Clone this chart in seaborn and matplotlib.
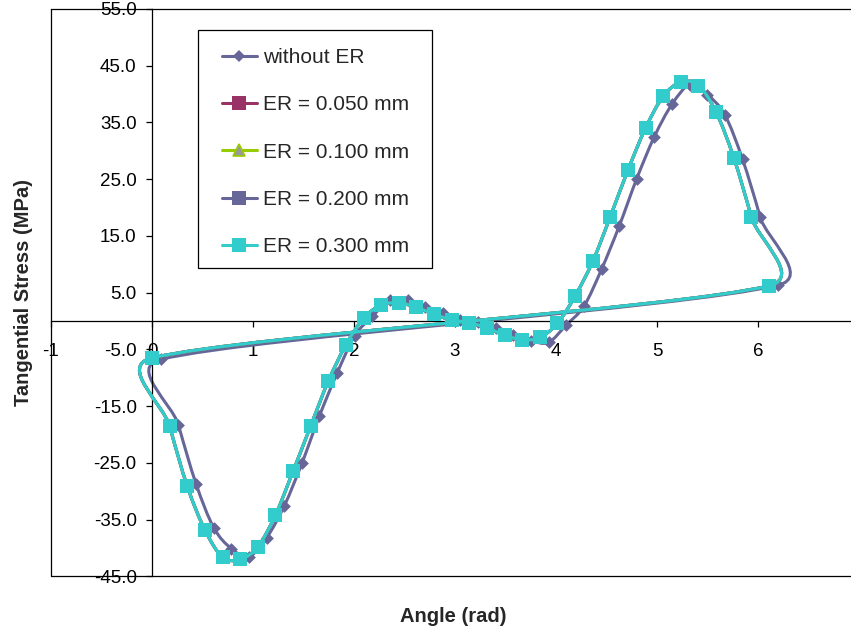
import numpy as np
import pandas as pd
import seaborn as sns
import matplotlib.pyplot as plt
from matplotlib.path import Path
from matplotlib.patches import PathPatch, Rectangle
from matplotlib.lines import Line2D
from matplotlib.ticker import FormatStrFormatter

# angle of each sample, in degrees
deg_er = [0, 10, 20, 30, 40, 50, 60, 70, 80, 90, 100, 110,
          120, 130, 140, 150, 160, 170, 180, 190, 200, 210, 220, 230,
          240, 250, 260, 270, 280, 290, 300, 310, 320, 330, 340, 350]
deg_without = [5, 15, 25, 35, 45, 55, 65, 75, 85, 95, 105, 115,
               125, 135, 145, 155, 165, 175, 185, 195, 205, 215, 225, 235,
               245, 255, 265, 275, 285, 295, 305, 315, 325, 335, 345, 355]

# tangential stress (MPa)
stress_without = [-6.75, -18.3, -28.7, -36.4, -40.1, -41.5, -38.2, -32.6, -25.1, -16.7, -9.2, -2.6,
                  0.8, 3.7, 3.7, 2.4, 1.5, 0.2, -0.1, -1.3, -2.5, -3.5, -3.75, -0.7,
                  2.6, 9.1, 16.7, 25.1, 32.5, 38.2, 41.6, 39.9, 36.3, 28.5, 18.3, 6.3]
stress_er_050 = [-6.5, -18.5, -29.1, -36.8, -41.6, -42.0, -39.8, -34.2, -26.5, -18.5, -10.6, -4.2,
                 0.5, 2.8, 3.2, 2.4, 1.2, 0.2, -0.3, -1.2, -2.5, -3.3, -2.9, -0.4,
                 4.4, 10.5, 18.4, 26.6, 34.0, 39.6, 42.1, 41.5, 36.8, 28.8, 18.3, 6.2]
stress_er_100 = [-6.5, -18.5, -29.1, -36.8, -41.6, -42.0, -39.8, -34.2, -26.5, -18.5, -10.6, -4.2,
                 0.5, 2.8, 3.2, 2.4, 1.2, 0.2, -0.3, -1.2, -2.5, -3.3, -2.9, -0.4,
                 4.4, 10.5, 18.4, 26.6, 34.0, 39.6, 42.1, 41.5, 36.8, 28.8, 18.3, 6.2]
stress_er_200 = [-6.5, -18.5, -29.1, -36.8, -41.6, -42.0, -39.8, -34.2, -26.5, -18.5, -10.6, -4.2,
                 0.5, 2.8, 3.2, 2.4, 1.2, 0.2, -0.3, -1.2, -2.5, -3.3, -2.9, -0.4,
                 4.4, 10.5, 18.4, 26.6, 34.0, 39.6, 42.1, 41.5, 36.8, 28.8, 18.3, 6.2]
stress_er_300 = [-6.5, -18.5, -29.1, -36.8, -41.6, -42.0, -39.8, -34.2, -26.5, -18.5, -10.6, -4.2,
                 0.5, 2.8, 3.2, 2.4, 1.2, 0.2, -0.3, -1.2, -2.5, -3.3, -2.9, -0.4,
                 4.4, 10.5, 18.4, 26.6, 34.0, 39.6, 42.1, 41.5, 36.8, 28.8, 18.3, 6.2]

labels = ["without ER", "ER = 0.050 mm", "ER = 0.100 mm", "ER = 0.200 mm", "ER = 0.300 mm"]
x_ticks = [-1, 0, 1, 2, 3, 4, 5, 6]
y_ticks = [-45, -35, -25, -15, -5, 5, 15, 25, 35, 45, 55]

series = [
    # label, angles, stress, line colour, marker, size, face, edge
    (labels[0], deg_without, stress_without, "#666699", "D", 6.5, "#666699", "#666699"),
    (labels[1], deg_er, stress_er_050, "#993366", "s", 9.5, "#993366", "#993366"),
    (labels[2], deg_er, stress_er_100, "#99CC00", "^", 9.0, "#999999", "#99CC00"),
    (labels[3], deg_er, stress_er_200, "#666699", "s", 9.5, "#666699", "#666699"),
    (labels[4], deg_er, stress_er_300, "#33CCCC", "s", 9.5, "#33CCCC", "#33CCCC"),
]

PX_X, PX_Y = 101.0, 5.675   # screen pixels per data unit, for the smoothing


def smooth_loop(x, y):
    # closed Excel-like smoothed line: bezier arms = min(|tangent|/6, segment/2)
    p = np.column_stack([np.asarray(x) * PX_X, np.asarray(y) * PX_Y])
    n = len(p)
    verts = [p[0]]
    codes = [Path.MOVETO]
    for i in range(n):
        a, b = p[i], p[(i + 1) % n]
        seg = np.hypot(*(b - a))
        t1 = p[(i + 1) % n] - p[i - 1]
        t2 = p[(i + 2) % n] - p[i]
        l1, l2 = np.hypot(*t1), np.hypot(*t2)
        c1 = a + t1 / l1 * min(l1 / 6, seg / 2)
        c2 = b - t2 / l2 * min(l2 / 6, seg / 2)
        verts += [c1, c2, b]
        codes += [Path.CURVE4] * 3
    verts = np.array(verts) / [PX_X, PX_Y]
    return Path(verts, codes)


sns.set_theme(style="white")
plt.rcParams["font.family"] = ["Liberation Sans", "DejaVu Sans"]
plt.rcParams["axes.unicode_minus"] = False

W, H = 851, 636
fig = plt.figure(figsize=(W / 100, H / 100), dpi=100)
ax = fig.add_axes([51 / W, 59.6 / H, 808 / W, 567.5 / H])

handles = []
for k, (lab, deg, stress, lc, mk, ms, fc, ec) in enumerate(series):
    df = pd.DataFrame({"angle": np.deg2rad(deg), "stress": stress})
    ax.add_patch(PathPatch(smooth_loop(df["angle"], df["stress"]), facecolor="none",
                           edgecolor=lc, lw=2.2, zorder=2 + 2 * k))
    sns.scatterplot(data=df, x="angle", y="stress", marker=mk, s=ms ** 2, color=fc,
                    edgecolor=ec, linewidth=0, ax=ax,
                    zorder=3 + 2 * k, legend=False)
    handles.append(Line2D([], [], color=lc, lw=2.2, marker=mk, markersize=ms,
                          markerfacecolor=fc, markeredgecolor=ec,
                          markeredgewidth=1.2 if mk == "^" else 0, label=lab))

ax.set_xlim(-1, 7)
ax.set_ylim(-45, 55)
ax.set_xticks(x_ticks)
ax.set_yticks(y_ticks)
ax.yaxis.set_major_formatter(FormatStrFormatter("%.1f"))

# axes cross at the origin, plot area keeps its own frame
ax.spines["left"].set_position(("data", 0))
ax.spines["bottom"].set_position(("data", 0))
ax.spines["right"].set_visible(False)
for s in ["left", "bottom", "top"]:
    ax.spines[s].set_color("black")
    ax.spines[s].set_linewidth(0.9)
ax.plot([0, 0], [0, 1], transform=ax.transAxes, color="black", lw=0.9, clip_on=False)
ax.plot([0, 1], [0, 0], transform=ax.transAxes, color="black", lw=0.9, clip_on=False)

ax.tick_params(axis="both", direction="out", length=4, width=0.9, colors="black",
               labelsize=13.5, left=True, bottom=True)
ax.tick_params(axis="x", pad=12)
ax.tick_params(axis="y", pad=7)

ax.set_xlabel("Angle (rad)", fontsize=14.5, fontweight="bold")
ax.set_ylabel("Tangential Stress (MPa)", fontsize=14.5, fontweight="bold")
ax.xaxis.set_label_coords(0.4975, -0.054)
ax.yaxis.set_label_coords(-0.0223, 0.5)

# legend entries without frame, box drawn separately (wider side padding, like Excel)
leg = ax.legend(handles=handles, loc="upper left", bbox_to_anchor=(221.7 / W, 1 - 48.0 / H),
                bbox_transform=fig.transFigure, borderaxespad=0, borderpad=0,
                frameon=False, fontsize=15, handlelength=1.7, handletextpad=0.3,
                labelspacing=1.36)
leg.set_zorder(20)
ax.add_patch(Rectangle((198 / W, 1 - 268 / H), 234 / W, 238 / H, transform=fig.transFigure,
                       facecolor="white", edgecolor="black", lw=0.9, zorder=19,
                       clip_on=False))

fig.savefig("out.png", dpi=100)
